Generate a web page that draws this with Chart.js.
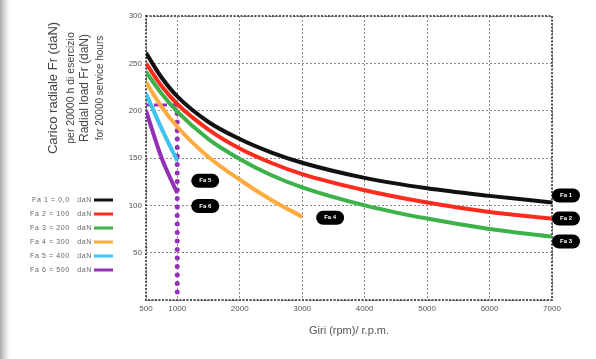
<!DOCTYPE html>
<html>
<head>
<meta charset="utf-8">
<script src="https://cdn.jsdelivr.net/npm/chart.js@4"></script>
<style>
  html, body { margin: 0; padding: 0; }
  body {
    width: 596px; height: 359px; overflow: hidden;
    background: linear-gradient(to right, #a9a9a9 0px, #d4d4d4 4px, #f4f4f4 8px, #fff 11px);
  }
  canvas { display: block; }
</style>
</head>
<body>
<canvas id="myChart" width="596" height="359"></canvas>
<script>
// speeds (rpm) and radial loads (daN)
const rpmLong = [500, 750, 1000, 1500, 2000, 2500, 3000, 4000, 5000, 6000, 7000];
const fa1 = [261, 235, 215, 188, 170, 156, 145, 129, 118, 110, 103];
const fa2 = [250, 226, 207, 180, 160, 145, 133, 116, 103, 93, 86];
const fa3 = [241, 218, 199, 170, 149, 132, 119, 100, 86, 75, 67];
const rpmOrange = [500, 750, 1000, 1500, 2000, 2500, 3000];
const fa4 = [230, 204, 183, 151, 127, 106, 88];
const rpmShort = [500, 750, 1000];
const fa5 = [218, 181, 147];
const fa6 = [200, 150, 113];

const refRpm = [500, 1000, 1000];
const refLoad = [206, 206, 0];

const xTicks = [500, 1000, 2000, 3000, 4000, 5000, 6000, 7000];
const seriesNames = ["Fa 1 = 0,0   daN", "Fa 2 = 100   daN", "Fa 3 = 200   daN", "Fa 4 = 300   daN", "Fa 5 = 400   daN", "Fa 6 = 500   daN"];
const tagNames = ["Fa 1", "Fa 2", "Fa 3", "Fa 4", "Fa 5", "Fa 6"];
const colors = ["#111111", "#ff2b1c", "#3db24a", "#ffab3d", "#3cc3ef", "#9330b8"];

const font = "'Liberation Sans', Arial, sans-serif";

function pts(xs, ys){
    let out = [];
    for (let i = 0; i < xs.length; i++){
        out.push({x: xs[i], y: ys[i]});
    }
    return out;
}

function curve(i, xs, ys){
    return {
        label: seriesNames[i],
        data: pts(xs, ys),
        borderColor: colors[i],
        borderWidth: 4,
        pointRadius: 0,
        fill: false,
        cubicInterpolationMode: "monotone"
    };
}

const datasets = [
    curve(0, rpmLong, fa1),
    curve(1, rpmLong, fa2),
    curve(2, rpmLong, fa3),
    curve(3, rpmOrange, fa4),
    curve(4, rpmShort, fa5),
    curve(5, rpmShort, fa6),
    {
        label: "ref-h",
        data: pts(refRpm.slice(0, 2), refLoad.slice(0, 2)),
        borderColor: colors[5],
        borderWidth: 3,
        borderDash: [5, 3],
        pointRadius: 0
    },
    {
        label: "ref-v",
        data: pts(refRpm.slice(1), refLoad.slice(1)),
        borderColor: colors[5],
        borderWidth: 5,
        borderDash: [0, 8.5],
        borderCapStyle: "round",
        pointRadius: 0,
        clip: false
    }
];

// black tags at the end of the curves: [dataset index, dx, dy]
const tagPlaces = [[0, 14, -7], [1, 14, 0], [2, 14, 5], [3, 28, 1], [4, 28, 20], [5, 28, 13]];

const extras = {
    id: "extras",
    beforeDatasetsDraw(chart){
        const a = chart.chartArea;
        const ctx = chart.ctx;
        ctx.save();
        ctx.strokeStyle = "#555";
        ctx.lineWidth = 2;
        ctx.setLineDash([2, 1.5]);
        ctx.strokeRect(a.left, a.top, a.right - a.left, a.bottom - a.top);
        ctx.restore();
    },
    afterDatasetsDraw(chart){
        const ctx = chart.ctx;
        ctx.save();
        ctx.font = "bold 6px " + font;
        ctx.textAlign = "center";
        ctx.textBaseline = "middle";
        tagPlaces.forEach(function(t){
            const meta = chart.getDatasetMeta(t[0]);
            const last = meta.data[meta.data.length - 1];
            const cx = last.x + t[1];
            const cy = last.y + t[2];
            ctx.fillStyle = "#000";
            ctx.beginPath();
            ctx.roundRect(cx - 14, cy - 7, 28, 14, 7);
            ctx.fill();
            ctx.fillStyle = "#fff";
            ctx.fillText(tagNames[t[0]], cx, cy);
        });
        ctx.restore();
    },
    afterDraw(chart){
        const ctx = chart.ctx;
        const a = chart.chartArea;
        ctx.save();
        // x title
        ctx.fillStyle = "#555";
        ctx.font = "11px " + font;
        ctx.textAlign = "center";
        ctx.textBaseline = "middle";
        ctx.fillText("Giri (rpm)/ r.p.m.", (a.left + a.right) / 2, 331);
        // y title, rotated
        const lines = [
            ["Carico radiale Fr (daN)", 53, 13],
            ["per 20000 h di esercizio", 71, 10.5],
            ["Radial load Fr (daN)", 85, 12],
            ["for 20000 service hours", 100, 10]
        ];
        lines.forEach(function(l){
            ctx.save();
            ctx.translate(l[1], 88);
            ctx.rotate(-Math.PI / 2);
            ctx.font = l[2] + "px " + font;
            ctx.fillStyle = "#444";
            ctx.fillText(l[0], 0, 0);
            ctx.restore();
        });
        // legend
        ctx.font = "7px " + font;
        ctx.letterSpacing = "0.6px";
        ctx.textAlign = "right";
        for (let i = 0; i < seriesNames.length; i++){
            const y = 200 + i * 14;
            ctx.fillStyle = "#666";
            ctx.fillText(seriesNames[i], 92, y);
            ctx.strokeStyle = colors[i];
            ctx.lineWidth = 3;
            ctx.beginPath();
            ctx.moveTo(94, y);
            ctx.lineTo(113, y);
            ctx.stroke();
        }
        ctx.restore();
    }
};

const config = {
    type: "line",
    data: { datasets: datasets },
    options: {
        responsive: false,
        animation: false,
        devicePixelRatio: 1,
        layout: { padding: { left: 100, right: 44, top: 16, bottom: 0 } },
        plugins: { legend: { display: false }, tooltip: { enabled: false } },
        scales: {
            x: {
                type: "linear",
                min: 500,
                max: 7000,
                afterBuildTicks(s){ s.ticks = xTicks.map(v => ({value: v})); },
                afterFit(s){ s.height = 59; },
                grid: { color: "#8a8a8a", lineWidth: 1, drawTicks: false },
                border: { display: false, dash: [2, 2] },
                ticks: {
                    color: "#555",
                    font: { size: 8, family: font },
                    padding: 4,
                    maxRotation: 0,
                    autoSkip: false,
                    callback: v => String(v)
                }
            },
            y: {
                min: 0,
                max: 300,
                afterFit(s){ s.width = 46; },
                grid: { color: "#8a8a8a", lineWidth: 1, drawTicks: false },
                border: { display: false, dash: [2, 2] },
                ticks: {
                    stepSize: 50,
                    color: "#555",
                    font: { size: 8, family: font },
                    padding: 4,
                    callback: v => (v === 0 ? "" : String(v))
                }
            }
        }
    },
    plugins: [extras]
};

const ctx = document.getElementById("myChart").getContext("2d");
let myChart = new Chart(ctx, config);
</script>
</body>
</html>
